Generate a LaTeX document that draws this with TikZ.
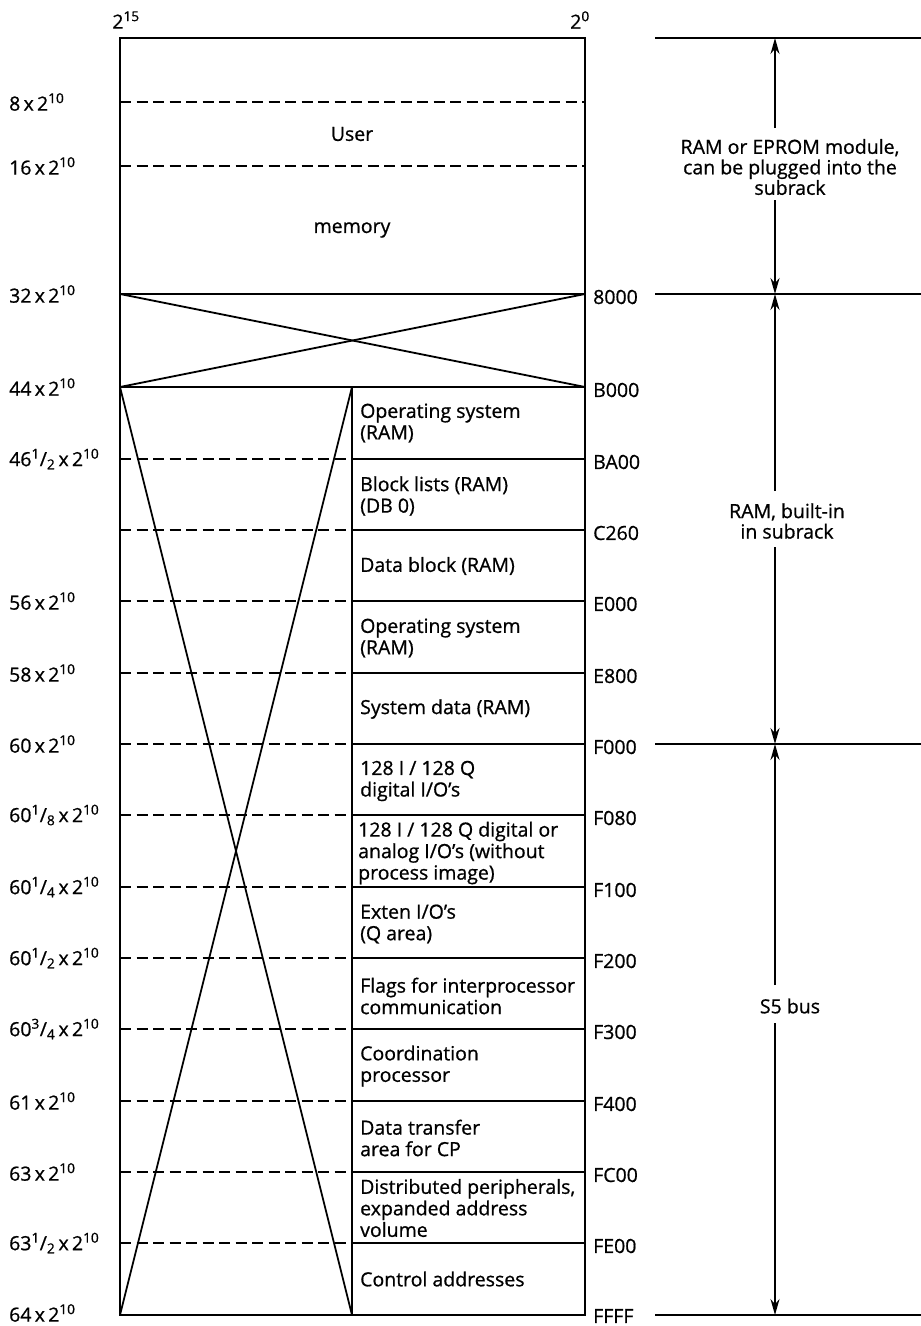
\documentclass[tikz,border=0pt]{standalone}
\usepackage{fontspec}
\setmainfont{Open Sans}[FakeBold=0.8]
\usetikzlibrary{arrows.meta}
\newcommand{\tten}{\,x\,2\textsuperscript{10}}
\newcommand{\frc}[2]{\textsuperscript{#1}/\textsubscript{#2}}
\begin{document}
\begin{tikzpicture}[x=1pt,y=-1pt,
  every node/.style={font=\fontsize{19.5}{21.5}\selectfont, inner sep=0pt},
  frame/.style={line width=2.3pt},
  dashline/.style={line width=2.1pt, dash pattern=on 11pt off 5.5pt},
  solidline/.style={line width=2.1pt},
  cross/.style={line width=1.8pt},
  rline/.style={line width=1.8pt},
  arr/.style={line width=1.8pt, -{Stealth[length=16pt,width=9pt]}},
  celltext/.style={anchor=west, align=left},
  lbl/.style={anchor=west},
  hex/.style={anchor=west},
  note/.style={align=center, font=\fontsize{19.5}{20.5}\selectfont},
]
\useasboundingbox (0,0) rectangle (921,1326);

% main frame
\draw[frame] (120,38) rectangle (585,1315);
\draw[frame] (120,294) -- (585,294);
\draw[frame] (120,387) -- (585,387);
\draw[frame] (352,387) -- (352,1315);
\draw[dashline] (120,102) -- (585,102);
\draw[dashline] (120,166) -- (585,166);
\foreach \y in {459,530,601,673,744,815,887,958,1029,1101,1172,1243}{
  \draw[dashline] (120,\y) -- (352,\y);
  \draw[solidline] (352,\y) -- (585,\y);
}
% crosses
\draw[cross] (120,294) -- (585,387);
\draw[cross] (120,387) -- (585,294);
\draw[cross] (120,387) -- (352,1315);
\draw[cross] (352,387) -- (120,1315);

% top labels
\node (p15) at (126,20) {2\textsuperscript{15}};
\node (p0) at (580,20) {2\textsuperscript{0}};

% user memory
\node (user) at (352,134) {User};
\node (mem) at (352,230) {memory};

% left labels
\node[lbl] (l1) at (9,102) {8\tten};
\node[lbl] (l2) at (9,166) {16\tten};
\node[lbl] (l3) at (9,294) {32\tten};
\node[lbl] (l4) at (9,387) {44\tten};
\node[lbl] (l5) at (9,459) {46\frc{1}{2}\tten};
\node[lbl] (l6) at (9,601) {56\tten};
\node[lbl] (l7) at (9,673) {58\tten};
\node[lbl] (l8) at (9,744) {60\tten};
\node[lbl] (l9) at (9,815) {60\frc{1}{8}\tten};
\node[lbl] (l10) at (9,887) {60\frc{1}{4}\tten};
\node[lbl] (l11) at (9,958) {60\frc{1}{2}\tten};
\node[lbl] (l12) at (9,1029) {60\frc{3}{4}\tten};
\node[lbl] (l13) at (9,1101) {61\tten};
\node[lbl] (l14) at (9,1172) {63\tten};
\node[lbl] (l15) at (9,1243) {63\frc{1}{2}\tten};
\node[lbl] (l16) at (9,1313) {64\tten};

% hex labels
\node[hex] (h1) at (593,297) {8000};
\node[hex] (h2) at (593,390) {B000};
\node[hex] (h3) at (593,462) {BA00};
\node[hex] (h4) at (593,533) {C260};
\node[hex] (h5) at (593,604) {E000};
\node[hex] (h6) at (593,676) {E800};
\node[hex] (h7) at (593,747) {F000};
\node[hex] (h8) at (593,818) {F080};
\node[hex] (h9) at (593,890) {F100};
\node[hex] (h10) at (593,961) {F200};
\node[hex] (h11) at (593,1032) {F300};
\node[hex] (h12) at (593,1104) {F400};
\node[hex] (h13) at (593,1175) {FC00};
\node[hex] (h14) at (593,1246) {FE00};
\node[hex] (h15) at (593,1316) {FFFF};

% cell texts
\node[celltext] (c1) at (360,423) {Operating system\\(RAM)};
\node[celltext] (c2) at (360,496) {Block lists (RAM)\\(DB 0)};
\node[celltext] (c3) at (360,566) {Data block (RAM)};
\node[celltext] (c4) at (360,638) {Operating system\\(RAM)};
\node[celltext] (c5) at (360,709) {System data (RAM)};
\node[celltext] (c6) at (360,781) {128 I / 128 Q\\digital I/O's};
\node[celltext] (c7) at (358,853) {128 I / 128 Q digital or\\analog I/O's (without\\process image)};
\node[celltext] (c8) at (360,924) {Exten I/O's\\(Q area)};
\node[celltext] (c9) at (360,996) {Flags for interprocessor\\communication};
\node[celltext] (c10) at (360,1066) {Coordination\\processor};
\node[celltext] (c11) at (360,1138) {Data transfer\\area for CP};
\node[celltext] (c12) at (360,1208) {Distributed peripherals,\\expanded address\\volume};
\node[celltext] (c13) at (360,1279) {Control addresses};

% right side lines
\draw[rline] (655,38) -- (921,38);
\draw[rline] (655,294) -- (921,294);
\draw[rline] (655,744) -- (921,744);
\draw[rline] (655,1315) -- (921,1315);

% right side notes
\node[note] (n1) at (790,167) {RAM or EPROM module,\\can be plugged into the\\subrack};
\node[note] (n2) at (787,521) {RAM, built-in\\in subrack};
\node[note] (n3) at (790,1006) {S5 bus};

\coordinate (a1t) at (775,38);
\coordinate (a1s) at (775,128);
\coordinate (a1u) at (775,200);
\coordinate (a1b) at (775,294);
\coordinate (a2t) at (775,294);
\coordinate (a2s) at (775,491);
\coordinate (a2u) at (775,547);
\coordinate (a2b) at (775,744);
\coordinate (a3t) at (775,744);
\coordinate (a3s) at (775,985);
\coordinate (a3u) at (775,1023);
\coordinate (a3b) at (775,1315);
\draw[arr] (a1s) -- (a1t);
\draw[arr] (a1u) -- (a1b);
\draw[arr] (a2s) -- (a2t);
\draw[arr] (a2u) -- (a2b);
\draw[arr] (a3s) -- (a3t);
\draw[arr] (a3u) -- (a3b);
\end{tikzpicture}
\end{document}
